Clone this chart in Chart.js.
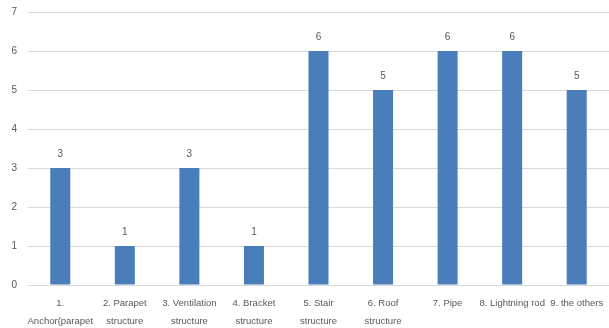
<!DOCTYPE html>
<html>
<head>
<meta charset="utf-8">
<script src="https://cdn.jsdelivr.net/npm/chart.js@4/dist/chart.umd.min.js"></script>
<style>
  html, body { margin: 0; padding: 0; background: #ffffff; }
  #wrap { width: 609px; height: 328px; }
</style>
</head>
<body>
<div id="wrap"><canvas id="chart"></canvas></div>
<script>
// Categories (multi-line labels) and counts per category
const categories = [
  ['1.', 'Anchor(parapet'],
  ['2. Parapet', 'structure'],
  ['3. Ventilation', 'structure'],
  ['4. Bracket', 'structure'],
  ['5. Stair', 'structure'],
  ['6. Roof', 'structure'],
  '7. Pipe',
  '8. Lightning rod',
  '9. the others'
];
const counts = [3, 1, 3, 1, 6, 5, 6, 6, 5];
const yTicks = [0, 1, 2, 3, 4, 5, 6, 7];

const FONT = "'Liberation Sans', Arial, sans-serif";
const TEXT = '#595959';

// Writes each bar's value just above it
const valueLabels = {
  id: 'valueLabels',
  afterDatasetsDraw(chart) {
    const ctx = chart.ctx;
    ctx.save();
    ctx.font = '10px ' + FONT;
    ctx.fillStyle = TEXT;
    ctx.textAlign = 'center';
    ctx.textBaseline = 'bottom';
    chart.getDatasetMeta(0).data.forEach((bar, i) => {
      ctx.fillText(String(counts[i]), bar.x, bar.y - 9);
    });
    ctx.restore();
  }
};

new Chart(document.getElementById('chart'), {
  type: 'bar',
  data: {
    labels: categories,
    datasets: [{
      data: counts,
      backgroundColor: '#4a7ebb',
      borderWidth: 0,
      categoryPercentage: 1,
      barPercentage: 0.31
    }]
  },
  options: {
    responsive: true,
    maintainAspectRatio: false,
    animation: false,
    layout: { padding: { left: 0, right: 0, top: 12, bottom: 0 } },
    plugins: {
      legend: { display: false },
      tooltip: { enabled: false }
    },
    scales: {
      x: {
        grid: { display: false, drawTicks: false },
        border: { display: false },
        afterFit(axis) { axis.height = 43; axis.paddingRight = 0; },
        ticks: {
          color: TEXT,
          font: { family: FONT, size: 9.5, lineHeight: 1.85 },
          maxRotation: 0,
          autoSkip: false,
          padding: 10
        }
      },
      y: {
        min: 0,
        max: yTicks[yTicks.length - 1],
        afterBuildTicks(axis) { axis.ticks = yTicks.map(v => ({ value: v })); },
        afterFit(axis) { axis.width = 28; axis.paddingTop = 0; axis.paddingBottom = 0; },
        grid: { color: '#d9d9d9', lineWidth: 1, drawTicks: false },
        border: { display: false },
        ticks: {
          color: TEXT,
          font: { family: FONT, size: 10 },
          padding: 11
        }
      }
    }
  },
  plugins: [valueLabels]
});
</script>
</body>
</html>
